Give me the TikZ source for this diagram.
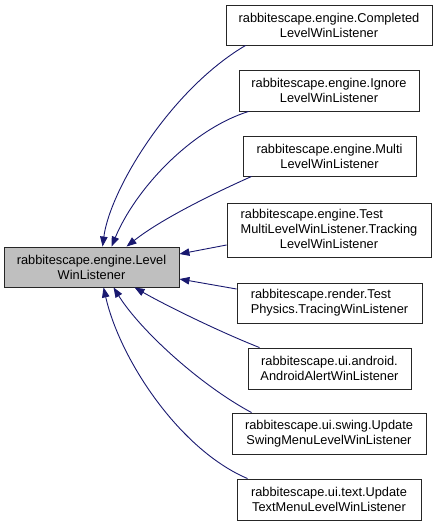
\documentclass[tikz,border=0pt]{standalone}
\usepackage{fontspec}
\setmainfont{Liberation Sans}
\usetikzlibrary{arrows.meta,calc}
\definecolor{edgeblue}{HTML}{191970}
\definecolor{mainfill}{HTML}{BFBFBF}
\begin{document}
\begin{tikzpicture}[x=1pt,y=-1pt,
  box/.style={draw=black!85, line width=0.9pt, fill=white, inner sep=0pt, align=center,
    font=\fontsize{12.8}{15}\selectfont, minimum height=40pt},
  edge/.style={draw=edgeblue, line width=0.9pt, -{Triangle[length=10pt,width=7.5pt]}}]
\useasboundingbox (0,0) rectangle (437,525);
\node[box, fill=mainfill, minimum width=175pt] (main) at (91.5,267) {rabbitescape.engine.Level\\WinListener};
\node[box, minimum width=206pt] (b1) at (329,25) {rabbitescape.engine.Completed\\LevelWinListener};
\node[box, minimum width=180pt, minimum height=41pt] (b2) at (329,90.5) {rabbitescape.engine.Ignore\\LevelWinListener};
\node[box, minimum width=173pt] (b3) at (329.5,156) {rabbitescape.engine.Multi\\LevelWinListener};
\node[box, minimum width=204pt, minimum height=54pt] (b4) at (329,230) {\def\arraystretch{1}\begin{tabular}{@{}l@{}}rabbitescape.engine.Test\\MultiLevelWinListener.Tracking\\\multicolumn{1}{@{}c@{}}{LevelWinListener}\end{tabular}};
\node[box, minimum width=185pt, align=left] (b5) at (329.5,303) {rabbitescape.render.Test\\Physics.TracingWinListener};
\node[box, minimum width=163pt, minimum height=41pt] (b6) at (329.5,368.5) {rabbitescape.ui.android.\\AndroidAlertWinListener};
\node[box, minimum width=194pt, minimum height=41pt] (b7) at (329,433.5) {rabbitescape.ui.swing.Update\\SwingMenuLevelWinListener};
\node[box, minimum width=184pt, minimum height=41pt] (b8) at (329,499.5) {rabbitescape.ui.text.Update\\TextMenuLevelWinListener};

\draw[edge] ($(b1.south west)+(20,0)$) .. controls (170,90) and (110,190) .. ($(main.north west)+(99,0)$);
\draw[edge] ($(b2.south west)+(10,0)$) .. controls (190,130) and (135,190) .. ($(main.north west)+(108,0)$);
\draw[edge] ($(b3.south west)+(9,0)$) .. controls (210,195) and (160,220) .. ($(main.north west)+(123,0)$);
\draw[edge] ($(b4.west)+(0,15)$) -- ($(main.east)+(0,-13)$);
\draw[edge] ($(b5.west)+(0,-14)$) -- ($(main.east)+(0,12)$);
\draw[edge] ($(b6.north west)+(12,0)$) .. controls (220,332) and (165,305) .. ($(main.south west)+(131,0)$);
\draw[edge] ($(b7.north west)+(20,0)$) .. controls (200,385) and (140,330) .. ($(main.south west)+(110,0)$);
\draw[edge] ($(b8.north west)+(11,0)$) .. controls (180,450) and (120,360) .. ($(main.south west)+(100,0)$);
\end{tikzpicture}
\end{document}
